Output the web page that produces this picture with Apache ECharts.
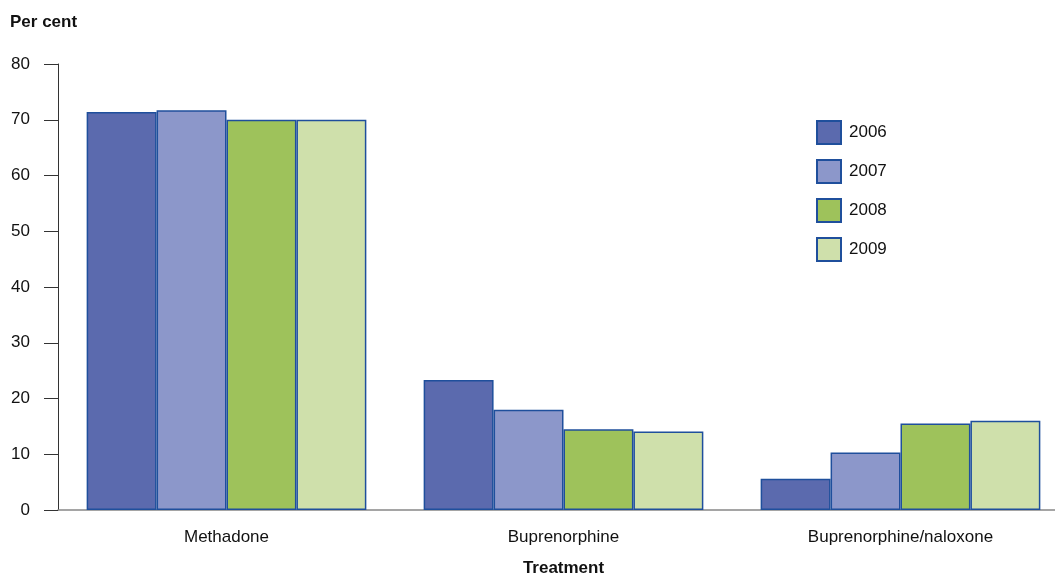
<!DOCTYPE html>
<html>
<head>
<meta charset="utf-8">
<script src="https://cdn.jsdelivr.net/npm/echarts@6/dist/echarts.min.js"></script>
<style>
  html, body { margin: 0; padding: 0; background: #fff; }
  #chart { width: 1055px; height: 578px; }
</style>
</head>
<body>
<div id="chart"></div>
<script>
// Share of clients by pharmacotherapy type, per year
const categories = ['Methadone', 'Buprenorphine', 'Buprenorphine/naloxone'];
const years = ['2006', '2007', '2008', '2009'];
const values2006 = [71.4, 23.3, 5.6];
const values2007 = [71.7, 18.0, 10.3];
const values2008 = [70.0, 14.5, 15.5];
const values2009 = [70.0, 14.1, 16.0];
const yTicks = [0, 10, 20, 30, 40, 50, 60, 70, 80];

const seriesValues = [values2006, values2007, values2008, values2009];
const fills = ['#5b6aae', '#8c97ca', '#9ec25b', '#cfe0ab'];
const FONT = '"Liberation Sans Narrow", "Liberation Sans", Arial, sans-serif';

const chart = echarts.init(document.getElementById('chart'));
chart.setOption({
  animation: false,
  textStyle: { fontFamily: FONT },
  grid: { left: 58, right: -14, top: 64, bottom: 68, containLabel: false, outerBoundsMode: 'none' },
  legend: {
    orient: 'vertical',
    left: 811,
    top: 115,
    icon: 'rect',
    itemWidth: 24,
    itemHeight: 23,
    itemGap: 14,
    textStyle: { fontFamily: FONT, fontSize: 17, color: '#111', padding: [0, 0, 0, 3] },
    data: years
  },
  xAxis: {
    type: 'category',
    data: categories,
    name: 'Treatment',
    nameLocation: 'middle',
    nameGap: 50,
    nameTextStyle: { fontFamily: FONT, fontSize: 17, fontWeight: 'bold', color: '#111' },
    axisLine: { lineStyle: { color: '#888', width: 1.5 } },
    axisTick: { show: false },
    axisLabel: { fontFamily: FONT, fontSize: 17, color: '#111', margin: 19 }
  },
  yAxis: {
    type: 'value',
    min: yTicks[0],
    max: yTicks[yTicks.length - 1],
    interval: 10,
    axisLine: { show: true, lineStyle: { color: '#333', width: 1 } },
    axisTick: { show: true, length: 14, lineStyle: { color: '#333', width: 1 } },
    splitLine: { show: false },
    axisLabel: { fontFamily: FONT, fontSize: 17, color: '#111', margin: 28 }
  },
  graphic: [{
    type: 'text',
    left: 10,
    top: 14,
    style: { text: 'Per cent', fontFamily: FONT, fontSize: 17, fontWeight: 'bold', fill: '#111' }
  }],
  series: years.map((y, i) => ({
    name: y,
    type: 'bar',
    data: seriesValues[i],
    barGap: '0%',
    barCategoryGap: '17%',
    itemStyle: { color: fills[i], borderColor: '#1f4f9c', borderWidth: 1.5 }
  }))
});
</script>
</body>
</html>
